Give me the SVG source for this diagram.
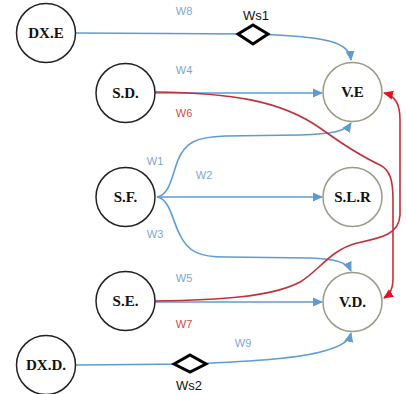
<svg xmlns="http://www.w3.org/2000/svg" width="406" height="394" viewBox="0 0 406 394">
  <style>
    .bg { fill: #ffffff; }
    .node-l { fill: #ffffff; stroke: #222222; stroke-width: 1.5; }
    .node-r { fill: #ffffff; stroke: #9a9a88; stroke-width: 1.5; }
    .node-text { font-family: "Liberation Serif", "Times New Roman", serif; font-weight: bold; font-size: 15px; fill: #111111; text-anchor: middle; }
    .blue { fill: none; stroke: #5f9bd3; stroke-width: 1.6; }
    .red { fill: none; stroke: #c4303a; stroke-width: 1.6; }
    .gate { fill: #ffffff; stroke: #000000; stroke-width: 3; stroke-linejoin: miter; }
    .wl { font-family: "Liberation Sans", Arial, sans-serif; font-size: 11px; text-anchor: middle; }
    .wb { fill: #7ea6cf; }
    .wr { fill: #d04a4a; }
    .ws { font-family: "Liberation Sans", Arial, sans-serif; font-size: 13px; fill: #111111; text-anchor: middle; }
  </style>
  <defs>
    <marker id="arrowBlue" viewBox="0 0 10 10" refX="9" refY="5" markerWidth="10" markerHeight="10" markerUnits="userSpaceOnUse" orient="auto">
      <path d="M0,0.5 L10,5 L0,9.5 Z" fill="#5f9bd3"/>
    </marker>
    <marker id="arrowRed" viewBox="0 0 10 10" refX="9" refY="5" markerWidth="10" markerHeight="10" markerUnits="userSpaceOnUse" orient="auto">
      <path d="M0,0.5 L10,5 L0,9.5 Z" fill="#e8101c"/>
    </marker>
  </defs>

  <rect class="bg" x="0" y="0" width="406" height="394"/>

  <g id="connectors">
    <!-- W8: DX.E to V.E through gate Ws1 -->
    <path class="blue" d="M76,33 L250,34 C328,36 349,42 351,60" marker-end="url(#arrowBlue)"/>
    <!-- W4: S.D. to V.E -->
    <path class="blue" d="M155,93 L322,93" marker-end="url(#arrowBlue)"/>
    <!-- W1: S.F. to V.E -->
    <path class="blue" d="M157,197 C170,195 172,175 178,160 C185,143 195,137 225,136 L300,135 C330,134 345,132 351,123" marker-end="url(#arrowBlue)"/>
    <!-- W2: S.F. to S.L.R -->
    <path class="blue" d="M157,197 L322,197" marker-end="url(#arrowBlue)"/>
    <!-- W3: S.F. to V.D. -->
    <path class="blue" d="M157,197 C170,199 172,220 180,235 C188,252 200,257 225,257 L310,258 C335,259 347,262 351,271" marker-end="url(#arrowBlue)"/>
    <!-- W5: S.E. to V.D. -->
    <path class="blue" d="M155,302 L322,302" marker-end="url(#arrowBlue)"/>
    <!-- W9: DX.D. to V.D. through gate Ws2 -->
    <path class="blue" d="M76,365 L190,364 C260,361 300,358 324,351 C342,346 349,341 351,333" marker-end="url(#arrowBlue)"/>
    <!-- W6: S.D. to V.D. -->
    <path class="red" d="M155,92 C230,93 280,100 320,128 C345,146 365,158 380,165 C390,170 393,180 393,200 L393,278 C393,289 390,294 384,298" marker-end="url(#arrowRed)"/>
    <!-- W7: S.E. to V.E -->
    <path class="red" d="M155,301 C220,300 272,297 300,282 C320,270 330,250 357,243 C380,238 399,235 400,215 L400,120 C400,105 396,96 384,93" marker-end="url(#arrowRed)"/>
  </g>

  <g id="gates">
    <path class="gate" d="M238,34 L253,25 L268,34 L253,44 Z"/>
    <path class="gate" d="M174,364 L190,355 L206,364 L190,372 Z"/>
  </g>

  <g id="labels">
    <text class="wl wb" x="184" y="15">W8</text>
    <text class="ws" x="256" y="20">Ws1</text>
    <text class="wl wb" x="184" y="74">W4</text>
    <text class="wl wr" x="184" y="117">W6</text>
    <text class="wl wb" x="155" y="165">W1</text>
    <text class="wl wb" x="204" y="179">W2</text>
    <text class="wl wb" x="155" y="238">W3</text>
    <text class="wl wb" x="184" y="282">W5</text>
    <text class="wl wr" x="184" y="328">W7</text>
    <text class="wl wb" x="243" y="347">W9</text>
    <text class="ws" x="189" y="390">Ws2</text>
  </g>

  <g id="node-dxe">
    <circle class="node-l" cx="46" cy="33" r="29.5"/>
    <text class="node-text" x="46" y="38">DX.E</text>
  </g>
  <g id="node-sd">
    <circle class="node-l" cx="125.5" cy="93" r="29.5"/>
    <text class="node-text" x="125.5" y="98">S.D.</text>
  </g>
  <g id="node-ve">
    <circle class="node-r" cx="352.5" cy="92" r="29.5"/>
    <text class="node-text" x="352.5" y="97">V.E</text>
  </g>
  <g id="node-sf">
    <circle class="node-l" cx="125.5" cy="197" r="29.5"/>
    <text class="node-text" x="125.5" y="202">S.F.</text>
  </g>
  <g id="node-slr">
    <circle class="node-r" cx="352.5" cy="197" r="29.5"/>
    <text class="node-text" x="352.5" y="202">S.L.R</text>
  </g>
  <g id="node-se">
    <circle class="node-l" cx="125.5" cy="301" r="29.5"/>
    <text class="node-text" x="125.5" y="306">S.E.</text>
  </g>
  <g id="node-vd">
    <circle class="node-r" cx="352.5" cy="302" r="29.5"/>
    <text class="node-text" x="352.5" y="307">V.D.</text>
  </g>
  <g id="node-dxd">
    <circle class="node-l" cx="46" cy="365" r="29.5"/>
    <text class="node-text" x="46" y="370">DX.D.</text>
  </g>
</svg>
